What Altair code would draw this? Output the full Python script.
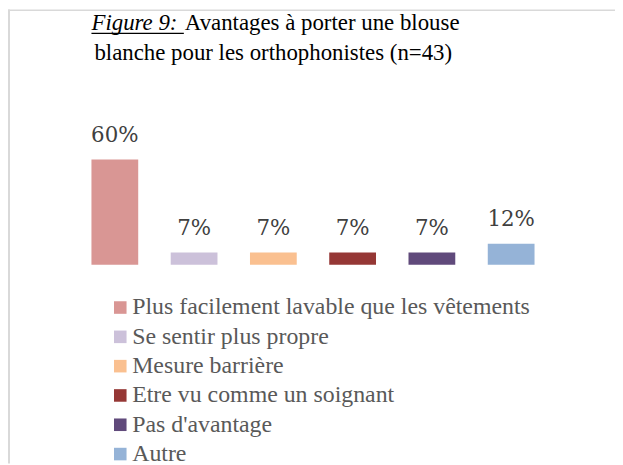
import altair as alt
import pandas as pd

categories = [
    "Plus facilement lavable que les vêtements",
    "Se sentir plus propre",
    "Mesure barrière",
    "Etre vu comme un soignant",
    "Pas d'avantage",
    "Autre",
]
percentages = [60, 7, 7, 7, 7, 12]
labels = ["60%", "7%", "7%", "7%", "7%", "12%"]
colors = ["#d99694", "#ccc1da", "#fac090", "#953735", "#604a7b", "#95b3d7"]

title_italic = "Figure 9: "
title_line1 = "Avantages à porter une blouse"
title_line2 = "blanche pour les orthophonistes (n=43)"

df = pd.DataFrame({"cat": categories, "pct": percentages, "label": labels})
one = pd.DataFrame({"k": [0]})

SERIF = "Times New Roman, Liberation Serif, serif"
W, H = 611, 457

xscale = alt.Scale(domain=categories, range=[80, 526], paddingInner=0.41, paddingOuter=0)
yscale = alt.Scale(domain=[0, 100], range=[257, 80.33])

base = alt.Chart(df)

bars = base.mark_bar().encode(
    x=alt.X("cat:N", scale=xscale, axis=None, sort=categories),
    y=alt.Y("pct:Q", scale=yscale, axis=None),
    color=alt.Color(
        "cat:N",
        scale=alt.Scale(domain=categories, range=colors),
        legend=alt.Legend(
            orient="none", legendX=97, legendY=288, direction="vertical", title=None,
            labelFont=SERIF, labelFontSize=24, labelColor="#595959",
            symbolType="square", symbolSize=160, symbolStrokeWidth=0, symbolOpacity=1,
            rowPadding=5.5, labelOffset=0, labelLimit=800, padding=0,
        ),
    ),
)

texts = base.mark_text(
    baseline="alphabetic", dy=-18, font="DejaVu Serif", fontSize=21.5, color="#404040"
).encode(
    x=alt.X("cat:N", scale=xscale, axis=None, sort=categories),
    y=alt.Y("pct:Q", scale=yscale, axis=None),
    text="label:N",
)

t_it = alt.Chart(one).mark_text(
    text=title_italic, font=SERIF, fontSize=23, fontStyle="italic",
    align="left", baseline="alphabetic", color="#000000",
).encode(x=alt.value(80), y=alt.value(21))

t_1 = alt.Chart(one).mark_text(
    text=title_line1, font=SERIF, fontSize=23,
    align="left", baseline="alphabetic", color="#000000",
).encode(x=alt.value(174), y=alt.value(21))

t_2 = alt.Chart(one).mark_text(
    text=title_line2, font=SERIF, fontSize=23,
    align="center", baseline="alphabetic", color="#000000",
).encode(x=alt.value(263), y=alt.value(51))

underline = alt.Chart(one).mark_rule(color="#000000", strokeWidth=1.3).encode(
    x=alt.value(80), x2=alt.value(173), y=alt.value(24)
)

border_left = alt.Chart(one).mark_rule(color="#d9d9d9", strokeWidth=2).encode(
    x=alt.value(-3), y=alt.value(0), y2=alt.value(H)
)
border_top = alt.Chart(one).mark_rule(color="#d9d9d9", strokeWidth=1.5).encode(
    x=alt.value(-4), x2=alt.value(W), y=alt.value(0.75)
)

chart = alt.layer(
    border_left, border_top, bars, texts, t_it, t_1, t_2, underline
).properties(
    width=W - 4, height=H, padding={"left": 4, "top": 0, "right": 0, "bottom": 0}, autosize="none"
).configure_view(stroke=None)

chart.save("out.html", embed_options={"renderer": "svg", "actions": False})
